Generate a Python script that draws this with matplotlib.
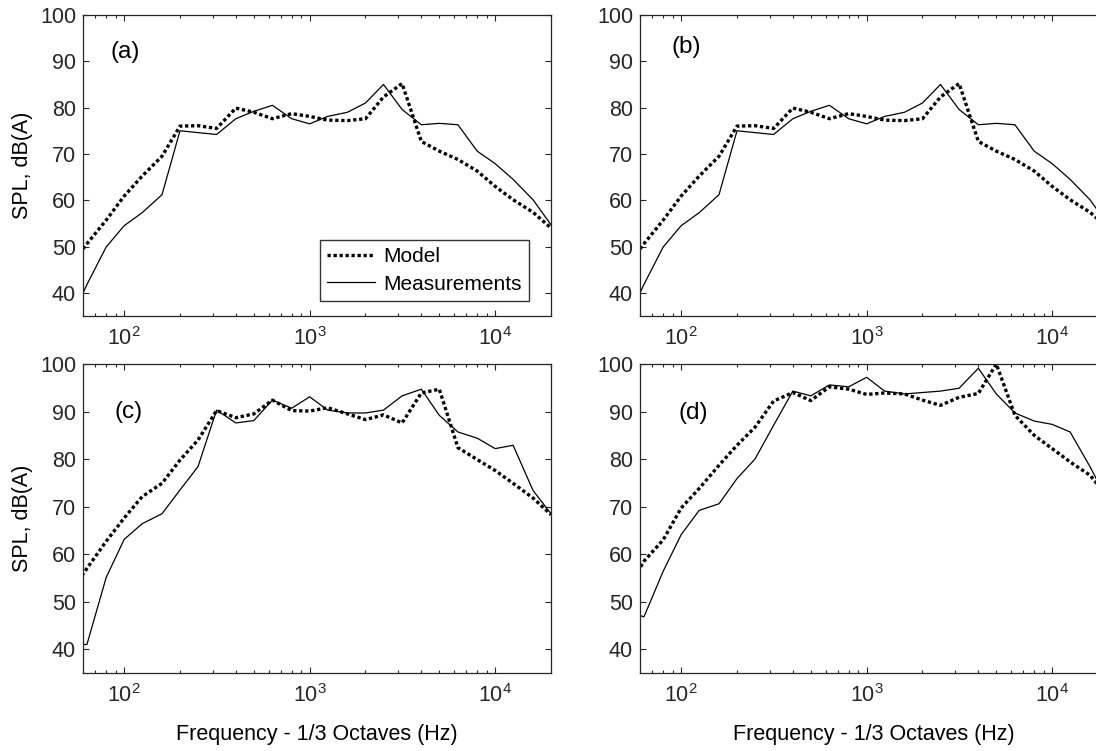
import matplotlib.pyplot as plt
from matplotlib.ticker import LogLocator, NullFormatter

plt.rcParams['font.family'] = ['Liberation Sans', 'DejaVu Sans']
plt.rcParams['mathtext.fontset'] = 'custom'
plt.rcParams['mathtext.rm'] = 'Liberation Sans'

# 1/3-octave band centre frequencies (Hz)
freqs = [50, 63, 80, 100, 125, 160, 200, 250, 315, 400, 500, 630, 800, 1000,
         1250, 1600, 2000, 2500, 3150, 4000, 5000, 6300, 8000, 10000, 12500,
         16000, 20000]

# SPL, dB(A)
model_a = [45.4, 50.6, 55.7, 60.9, 65.2, 69.5, 76.0, 76.1, 75.5, 79.9, 79.0,
           77.6, 78.7, 78.1, 77.3, 77.2, 77.6, 82.3, 85.2, 72.7, 70.6, 68.8,
           66.3, 63.0, 60.1, 57.4, 54.0]
meas_a = [33.2, 41.8, 49.9, 54.5, 57.3, 61.2, 75.0, 74.6, 74.2, 77.6, 79.2,
          80.5, 77.6, 76.5, 78.1, 79.0, 81.0, 85.0, 79.6, 76.3, 76.6, 76.3,
          70.6, 67.9, 64.5, 60.1, 54.7]

model_b = model_a
meas_b = meas_a

model_c = [51.3, 57.0, 62.7, 67.6, 72.1, 74.9, 79.8, 84.0, 90.2, 88.7, 89.5,
           92.4, 90.2, 90.1, 90.8, 89.5, 88.3, 89.3, 87.6, 93.9, 94.7, 82.4,
           79.9, 77.6, 74.9, 71.8, 68.3]
meas_c = [41.0, 41.0, 55.1, 63.1, 66.4, 68.5, 73.5, 78.4, 90.3, 87.6, 88.1,
          92.4, 90.7, 93.1, 90.3, 89.7, 89.7, 90.3, 93.3, 94.7, 89.2, 85.7,
          84.4, 82.2, 82.9, 73.4, 68.5]

model_d = [51.9, 58.5, 63.0, 69.7, 73.8, 78.7, 82.9, 86.7, 92.2, 94.0, 92.3,
           95.2, 94.7, 93.6, 93.9, 93.7, 92.4, 91.3, 93.0, 93.8, 100.0, 89.2,
           85.0, 82.2, 79.4, 76.6, 72.0]
meas_d = [48.2, 46.8, 56.4, 64.1, 69.2, 70.6, 75.9, 80.0, 87.1, 94.3, 93.3,
          95.6, 95.2, 97.2, 94.3, 93.7, 94.0, 94.3, 94.9, 99.1, 93.7, 89.7,
          88.0, 87.3, 85.7, 78.4, 71.1]

panels = ['(a)', '(b)', '(c)', '(d)']
models = [model_a, model_b, model_c, model_d]
measurements = [meas_a, meas_b, meas_c, meas_d]

W, H = 1096, 751
# axes boxes in pixels: left, top, right, bottom
boxes = [(83, 15, 551, 316), (640, 15, 1108, 316),
         (83, 364, 551, 673), (640, 364, 1108, 673)]
label_pos = [(0.058, 0.878), (0.068, 0.895), (0.068, 0.846), (0.082, 0.840)]

fig = plt.figure(figsize=(W / 100, H / 100), dpi=100)
grey = '#262626'

for i in range(4):
    l, t, r, b = boxes[i]
    ax = fig.add_axes([l / W, 1 - b / H, (r - l) / W, (b - t) / H])

    ax.plot(freqs, models[i], color='k', lw=2.4, ls=(0, (1, 0.8)), label='Model')
    ax.plot(freqs, measurements[i], color='k', lw=0.9, label='Measurements')

    ax.set_xscale('log')
    ax.set_xlim(60, 20000)
    ax.set_ylim(35, 100)
    ax.set_yticks(range(40, 101, 10))
    ax.xaxis.set_major_locator(LogLocator(base=10))
    ax.xaxis.set_minor_locator(LogLocator(base=10, subs=range(2, 10)))
    ax.xaxis.set_minor_formatter(NullFormatter())
    ax.tick_params(which='both', direction='in', top=True, right=True,
                   colors=grey, labelsize=15.5, width=0.8)
    ax.tick_params(which='major', length=4.5)
    ax.tick_params(which='minor', length=2.5)
    ax.tick_params(axis='x', pad=8)
    ax.tick_params(axis='y', pad=5)
    for s in ax.spines.values():
        s.set_color(grey)
        s.set_linewidth(0.9)

    ax.text(label_pos[i][0], label_pos[i][1], panels[i], transform=ax.transAxes,
            ha='left', va='center', fontsize=17.5, color='k')

    if i % 2 == 0:
        ax.set_ylabel('SPL, dB(A)', fontsize=15.5, color='k', labelpad=5)
    if i >= 2:
        ax.set_xlabel('Frequency - 1/3 Octaves (Hz)', fontsize=15.5, color='k',
                      labelpad=12)
    if i == 0:
        leg = ax.legend(loc='lower right', bbox_to_anchor=(0.953, 0.05),
                        borderaxespad=0, fontsize=15, frameon=True,
                        fancybox=False, handlelength=2.3, handletextpad=0.4,
                        labelspacing=0.4, borderpad=0.35)
        leg.get_frame().set_edgecolor('k')
        leg.get_frame().set_linewidth(1.0)

fig.savefig('out.png', dpi=100)
